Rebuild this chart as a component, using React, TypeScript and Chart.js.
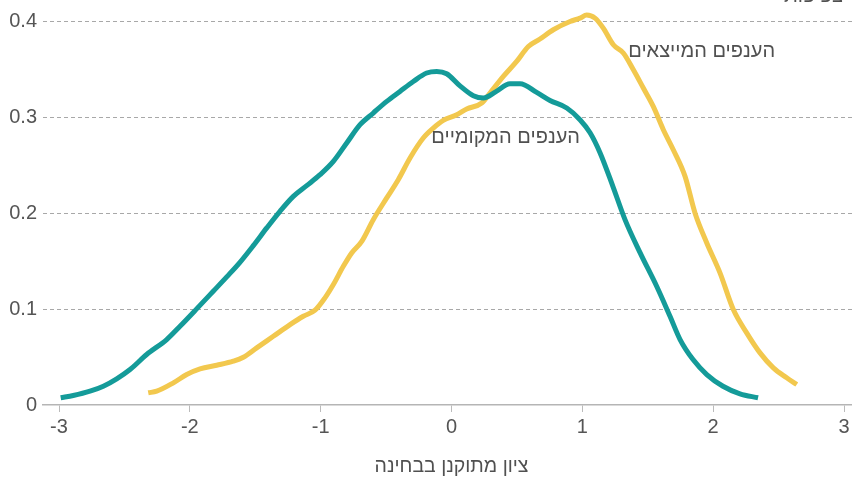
import React, { useEffect, useRef } from "react";
import { Chart, registerables } from "chart.js";

Chart.register(...registerables);

// Standardized exam score (x) and density (y)
const localX = [-2.987, -2.891, -2.763, -2.661, -2.559, -2.457, -2.33, -2.177, -2.075, -1.948, -1.821, -1.718, -1.617, -1.515, -1.412, -1.311, -1.209, -1.107, -1.005, -0.903, -0.801, -0.699, -0.598, -0.495, -0.394, -0.292, -0.19, -0.113, -0.037, 0.065, 0.167, 0.243, 0.34, 0.447, 0.524, 0.651, 0.753, 0.881, 0.982, 1.059, 1.135, 1.234, 1.326, 1.441, 1.568, 1.67, 1.747, 1.846, 1.951, 2.075, 2.205, 2.343];
const localY = [0.0075, 0.0099, 0.0144, 0.0196, 0.0273, 0.037, 0.0527, 0.0683, 0.0822, 0.1003, 0.1187, 0.1337, 0.1489, 0.1663, 0.1848, 0.2021, 0.2177, 0.2289, 0.2403, 0.2542, 0.2734, 0.2925, 0.3047, 0.3168, 0.3272, 0.3376, 0.3464, 0.3481, 0.3457, 0.333, 0.3227, 0.3203, 0.327, 0.3352, 0.3352, 0.3262, 0.3178, 0.3099, 0.2977, 0.2841, 0.2633, 0.2279, 0.1935, 0.159, 0.1239, 0.0926, 0.0683, 0.0474, 0.0318, 0.0196, 0.0117, 0.0075];

const exportX = [-2.318, -2.253, -2.126, -2.024, -1.922, -1.795, -1.668, -1.591, -1.489, -1.362, -1.234, -1.133, -1.043, -0.967, -0.903, -0.827, -0.763, -0.686, -0.598, -0.495, -0.407, -0.317, -0.216, -0.139, -0.063, 0.04, 0.116, 0.231, 0.294, 0.396, 0.498, 0.587, 0.676, 0.778, 0.906, 0.982, 1.033, 1.097, 1.16, 1.237, 1.313, 1.39, 1.466, 1.542, 1.619, 1.695, 1.785, 1.861, 1.951, 2.052, 2.154, 2.256, 2.358, 2.46, 2.562, 2.639];
const exportY = [0.0127, 0.0144, 0.0231, 0.0318, 0.0377, 0.0415, 0.0457, 0.0498, 0.0596, 0.0717, 0.0839, 0.0926, 0.0989, 0.1118, 0.1257, 0.1447, 0.1587, 0.1708, 0.1934, 0.2161, 0.2351, 0.2578, 0.2786, 0.289, 0.297, 0.3029, 0.3089, 0.3151, 0.3255, 0.3429, 0.3585, 0.3741, 0.3819, 0.3916, 0.4002, 0.4037, 0.4069, 0.4037, 0.3933, 0.3759, 0.3673, 0.3498, 0.3308, 0.3116, 0.2873, 0.2664, 0.2386, 0.2004, 0.1691, 0.1379, 0.0996, 0.0753, 0.0544, 0.0388, 0.0284, 0.0214];

const xTicks = [-3, -2, -1, 0, 1, 2, 3];
const yTicks = [0, 0.1, 0.2, 0.3, 0.4];

const localLabel = "הענפים המקומיים";
const exportLabel = "הענפים המייצאים";
const xTitle = "ציון מתוקנן בבחינה";
const yTitle = "צפיפות";

const FONT = "'Liberation Sans', Arial, sans-serif";
const TEXT = "#555555";

export default function App() {
  const ref = useRef<HTMLCanvasElement | null>(null);

  useEffect(() => {
    document.body.style.margin = "0";
    const canvas = ref.current;
    if (!canvas) return;

    const labelsPlugin = {
      id: "labelsPlugin",
      afterDraw(chart: any) {
        const ctx = chart.ctx;
        const xs = chart.scales.x;
        const ys = chart.scales.y;
        ctx.save();
        ctx.fillStyle = "#505050";
        ctx.font = `20px ${FONT}`;
        ctx.textAlign = "right";
        ctx.textBaseline = "middle";
        ctx.direction = "rtl";
        ctx.fillText(exportLabel, xs.getPixelForValue(2.473), ys.getPixelForValue(0.3687));
        ctx.fillText(localLabel, xs.getPixelForValue(0.982), ys.getPixelForValue(0.2789));
        ctx.font = `19.5px ${FONT}`;
        ctx.textAlign = "center";
        ctx.fillText(xTitle, xs.getPixelForValue(0), 467);
        ctx.textAlign = "right";
        ctx.textBaseline = "alphabetic";
        ctx.font = `20px ${FONT}`;
        ctx.fillText(yTitle, 843, 2);
        ctx.restore();
      },
    };

    const chart = new Chart(canvas, {
      type: "line",
      data: {
        datasets: [
          {
            label: localLabel,
            data: localX.map((x, i) => ({ x, y: localY[i] })),
            borderColor: "#149b99",
            borderWidth: 5,
            pointRadius: 0,
            cubicInterpolationMode: "monotone",
            fill: false,
          },
          {
            label: exportLabel,
            data: exportX.map((x, i) => ({ x, y: exportY[i] })),
            borderColor: "#f2c84e",
            borderWidth: 5,
            pointRadius: 0,
            cubicInterpolationMode: "monotone",
            fill: false,
          },
        ],
      },
      options: {
        responsive: false,
        animation: false,
        layout: { padding: { top: 3, left: 0, right: 0, bottom: 0 } },
        plugins: {
          legend: { display: false },
          tooltip: { enabled: false },
        },
        scales: {
          x: {
            type: "linear",
            min: -3.1223,
            max: 3.061,
            afterBuildTicks: (s: any) => {
              s.ticks = xTicks.map((v) => ({ value: v }));
            },
            afterFit: (s: any) => {
              s.height = 72;
              s.paddingLeft = 0;
              s.paddingRight = 0;
            },
            grid: {
              drawOnChartArea: false,
              drawTicks: true,
              tickLength: 7,
              color: "#bbbbbb",
            },
            border: { display: true, color: "#b5b5b5", width: 1.5 },
            ticks: {
              color: TEXT,
              font: { family: FONT, size: 20 },
              padding: 3,
              maxRotation: 0,
              callback: (v: any) => String(v),
            },
          },
          y: {
            type: "linear",
            min: 0,
            max: 0.4195,
            afterBuildTicks: (s: any) => {
              s.ticks = yTicks.map((v) => ({ value: v }));
            },
            afterFit: (s: any) => {
              s.width = 43;
              s.paddingTop = 0;
              s.paddingBottom = 0;
            },
            grid: {
              drawTicks: false,
              color: (c: any) => (c.tick && c.tick.value === 0 ? "rgba(0,0,0,0)" : "#a8a8a8"),
              lineWidth: 1,
            },
            border: { display: false, dash: [4, 3] },
            ticks: {
              color: TEXT,
              font: { family: FONT, size: 20 },
              padding: 6,
              callback: (v: any) => String(v),
            },
          },
        },
      } as any,
      plugins: [labelsPlugin],
    });

    return () => chart.destroy();
  }, []);

  return (
    <div style={{ position: "absolute", left: 0, top: 0, width: 852, height: 477 }}>
      <canvas ref={ref} width={852} height={477} style={{ width: 852, height: 477, display: "block" }} />
    </div>
  );
}
